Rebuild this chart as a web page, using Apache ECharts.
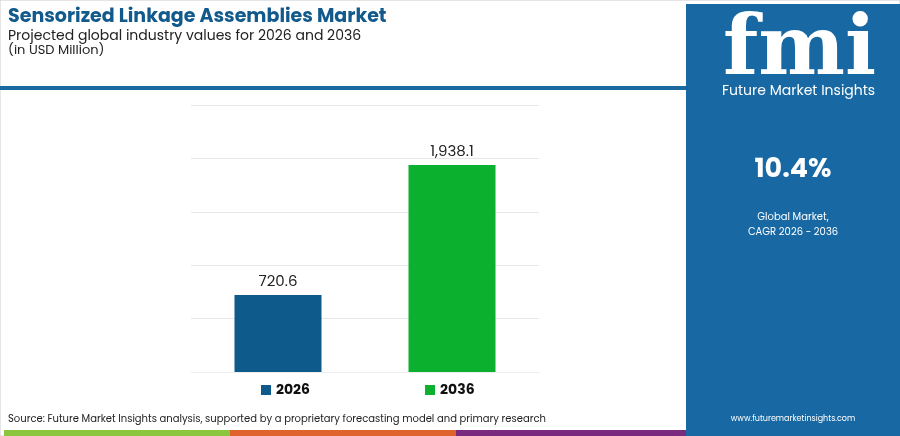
<!DOCTYPE html><html><head><meta charset="utf-8">
<script src="https://cdn.jsdelivr.net/npm/echarts@6/dist/echarts.min.js"></script>
<style>body{margin:0}#c{width:900px;height:436px}</style></head><body><div id="c"></div>
<script>
const categories=['2026','2036'];
const values=[720.6,1938.1];
const colors=['#0e5a8a','#0ab02e'];
const F='Poppins, "Noto Sans", sans-serif';
const chart=echarts.init(document.getElementById('c'));
chart.setOption({
 animation:false,
 graphic:[
  {type:'rect',shape:{x:0,y:0,width:900,height:436},style:{fill:'#fff',stroke:'#ccc'},z:-10},
  {type:'rect',shape:{x:0,y:86,width:686,height:4},style:{fill:'#1a6aa0'}},
  {type:'rect',shape:{x:686,y:4,width:214,height:432},style:{fill:'#1768a3'}},
  {type:'text',left:8,top:8,style:{text:'Sensorized Linkage Assemblies Market',font:'bold 19px '+F,fill:'#125a8c'}},
  {type:'text',left:8,top:29,style:{text:'Projected global industry values for 2026 and 2036',font:'14px '+F,fill:'#222'}},
  {type:'text',left:8,top:44,style:{text:'(in USD Million)',font:'13px '+F,fill:'#222'}},
  {type:'text',left:723,top:12,style:{text:'fmi',font:'bold 82px "DejaVu Serif", serif',fill:'#fff'}},
  {type:'text',left:722,top:84,style:{text:'Future Market Insights',font:'14px '+F,fill:'#fff'}},
  {type:'text',x:793,y:170,style:{text:'10.4%',font:'bold 27px '+F,fill:'#fff',align:'center',verticalAlign:'middle'}},
  {type:'text',x:793,y:225,style:{text:'Global Market,\nCAGR 2026 - 2036',font:'10px '+F,fill:'#fff',align:'center',verticalAlign:'middle',lineHeight:15}},
  {type:'text',x:793,y:419,style:{text:'www.futuremarketinsights.com',font:'8px '+F,fill:'#fff',align:'center',verticalAlign:'middle'}},
  {type:'text',left:8,top:414,style:{text:'Source: Future Market Insights analysis, supported by a proprietary forecasting model and primary research',font:'10px '+F,fill:'#222'}},
  {type:'rect',shape:{x:4,y:430,width:226,height:6},style:{fill:'#8cc63f'}},
  {type:'rect',shape:{x:230,y:430,width:226,height:6},style:{fill:'#e0622c'}},
  {type:'rect',shape:{x:456,y:430,width:230,height:6},style:{fill:'#7a2a7e'}}
 ],
 legend:{bottom:34,left:256,itemGap:115,itemWidth:10,itemHeight:10,icon:'rect',
   textStyle:{fontFamily:F,fontWeight:'bold',fontSize:14,color:'#111'},data:categories},
 grid:{left:191,width:348,top:105,height:267},
 xAxis:{type:'category',data:categories,axisLine:{show:true,lineStyle:{color:'#eee'}},axisTick:{show:false},axisLabel:{show:false}},
 yAxis:{type:'value',min:0,max:2500,interval:500,axisLabel:{show:false},splitLine:{lineStyle:{color:'#e6e6e6'}}},
 series:categories.map((c,i)=>({name:c,type:'bar',stack:'a',barWidth:87,
   data:values.map((v,j)=>j===i?v:'-'),itemStyle:{color:colors[i]},
   label:{show:true,position:'top',fontFamily:F,fontSize:15,color:'#222',formatter:p=>p.value.toLocaleString('en-US',{minimumFractionDigits:1})}}))
});
</script></body></html>
